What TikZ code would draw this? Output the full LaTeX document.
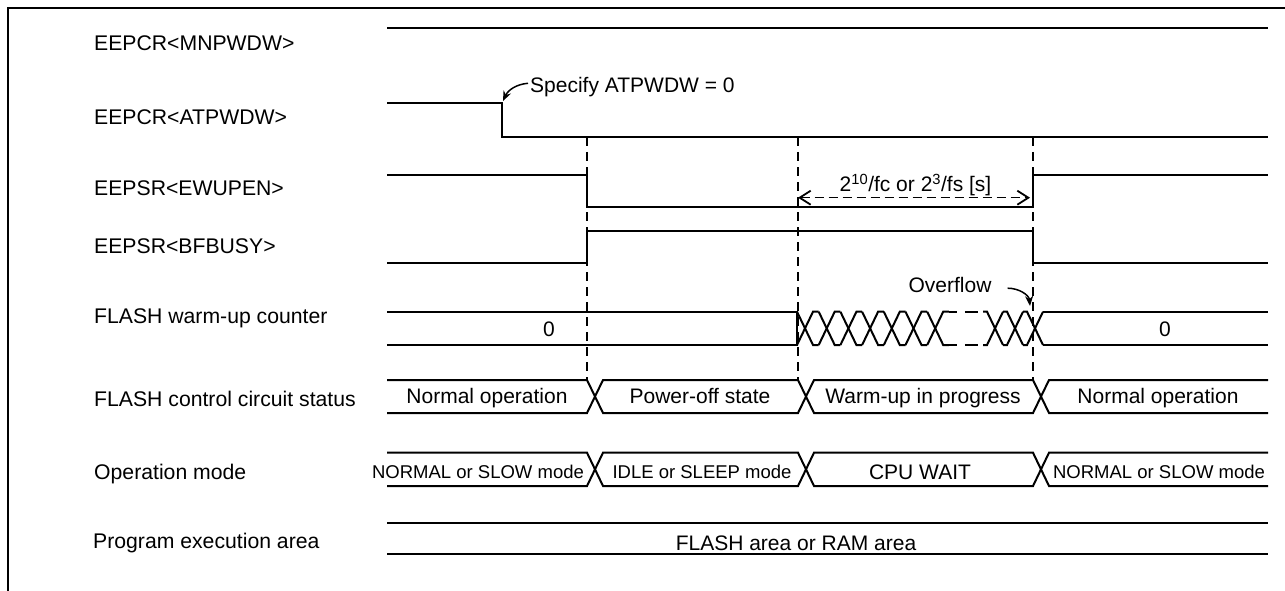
\documentclass[tikz,border=0pt]{standalone}
\usepackage{fontspec}
\setmainfont{Liberation Sans}
\usetikzlibrary{arrows.meta,positioning}

\begin{document}
\begin{tikzpicture}[x=1pt, y=-1pt,
  sig/.style={line width=2pt, line join=miter},
  guide/.style={line width=1.2pt, dash pattern=on 9pt off 6pt},
  lbl/.style={anchor=base west, inner sep=0pt, font=\fontsize{21.2}{25}\selectfont},
  val/.style={anchor=base, inner sep=0pt, font=\fontsize{21}{25}\selectfont},
  modetxt/.style={anchor=base, inner sep=0pt, font=\fontsize{18.5}{22}\selectfont},
  arrow/.style={-{Stealth[length=10pt, width=8pt]}, line width=1.5pt},
  dim/.style={{Straight Barb[length=11pt, width=14pt, line width=1.8pt]}-{Straight Barb[length=11pt, width=14pt, line width=1.8pt]}, line width=1.5pt, dash pattern=on 9pt off 5pt}
]

\useasboundingbox (0,0) rectangle (1285,591);

% frame
\draw[line width=1.2pt] (8,591) -- (8,8) -- (1285,8);

% signal names
\node[lbl] (lmnp) at (94,51) {EEPCR<MNPWDW>};
\node[lbl] (latp) at (94,124.6) {EEPCR<ATPWDW>};
\node[lbl] (lewu) at (94,195) {EEPSR<EWUPEN>};
\node[lbl] (lbfb) at (94,253) {EEPSR<BFBUSY>};
\node[lbl] (lcnt) at (94,323) {FLASH warm-up counter};
\node[lbl] (lsts) at (94,406.5) {FLASH control circuit status};
\node[lbl] (lmod) at (94,479) {Operation mode};
\node[lbl] (lprg) at (93,548.5) {Program execution area};

% timing guides
\foreach \t in {587,798,1033}
  \draw[guide] (\t,137) -- (\t,380);

% waveforms
\draw[sig] (387,28) -- (1268,28);
\draw[sig] (387,102.7) -- (502,102.7) -- (502,136.7) -- (1268,136.7);
\draw[sig] (387,175) -- (587,175) -- (587,207.3) -- (1033,207.3) -- (1033,175) -- (1268,175);
\draw[sig] (387,263) -- (587,263) -- (587,231) -- (1033,231) -- (1033,263) -- (1268,263);

% warm-up counter
\draw[sig] (387,311.7) -- (797,311.7) -- (797,345) -- (387,345);
\foreach \i in {0,...,6} {
  \pgfmathsetmacro\c{805+21.7*\i}
  \draw[sig] (\c-8,311.7) -- (\c+8,345) -- (\c+13.7,345);
  \draw[sig] (\c-8,345) -- (\c+8,311.7) -- (\c+13.7,311.7);
}
\draw[sig, dash pattern=on 8pt off 8pt on 13pt off 9pt] (948.9,311.7) -- (987,311.7);
\draw[sig, dash pattern=on 8pt off 8pt on 13pt off 9pt] (948.9,345) -- (987,345);
\foreach \i in {0,1,2} {
  \pgfmathsetmacro\c{995+20*\i}
  \draw[sig] (\c-12,311.7) -- (\c-8,311.7) -- (\c+8,345);
  \draw[sig] (\c-12,345) -- (\c-8,345) -- (\c+8,311.7);
}
\draw[sig] (1043,311.7) -- (1268,311.7) (1043,345) -- (1268,345);
\node[val] (cnt0) at (549,336.5) {0};
\node[val] (cnt1) at (1165,336.5) {0};

% control circuit status
\draw[sig] (387,380) -- (587,380) -- (603,413) -- (798,413) -- (814,380) -- (1033,380) -- (1049,413) -- (1268,413);
\draw[sig] (387,413) -- (587,413) -- (603,380) -- (798,380) -- (814,413) -- (1033,413) -- (1049,380) -- (1268,380);
\node[val] (sts1) at (487,403.5) {Normal operation};
\node[val] (sts2) at (700,403.5) {Power-off state};
\node[val] (sts3) at (923,403.5) {Warm-up in progress};
\node[val] (sts4) at (1158,403.5) {Normal operation};

% operation mode
\draw[sig] (387,452.7) -- (587,452.7) -- (603,486) -- (798,486) -- (814,452.7) -- (1033,452.7) -- (1049,486) -- (1268,486);
\draw[sig] (387,486) -- (587,486) -- (603,452.7) -- (798,452.7) -- (814,486) -- (1033,486) -- (1049,452.7) -- (1268,452.7);
\node[modetxt] (mod1) at (478,478) {NORMAL or SLOW mode};
\node[modetxt] (mod2) at (702,478) {IDLE or SLEEP mode};
\node[val] (mod3) at (920,479) {CPU WAIT};
\node[modetxt] (mod4) at (1159,478) {NORMAL or SLOW mode};

% program execution area
\draw[sig] (387,522.7) -- (1268,522.7) (387,554.3) -- (1268,554.3);
\node[val] (prg) at (796,550) {FLASH area or RAM area};

% annotations
\node[val, anchor=base west] (spec) at (530,92.7) {Specify ATPWDW = 0};
\coordinate (fall) at (503,101);
\draw[arrow] ([xshift=-2pt, yshift=4pt]spec.west) to[out=185, in=65] (fall);

\node[val] (ovf) at (950,292.7) {Overflow};
\coordinate (ovhit) at (1030,306);
\draw[arrow] ([xshift=16pt, yshift=-3pt]ovf.east) to[out=0, in=95] (ovhit);

\coordinate (dl) at (798,197.7);
\coordinate (dr) at (1030,197.7);
\draw[dim] (dl) -- (dr);
\node[val] (tw) at (915.5,191.7) {2\textsuperscript{10}/fc or 2\textsuperscript{3}/fs [s]};

\end{tikzpicture}
\end{document}
